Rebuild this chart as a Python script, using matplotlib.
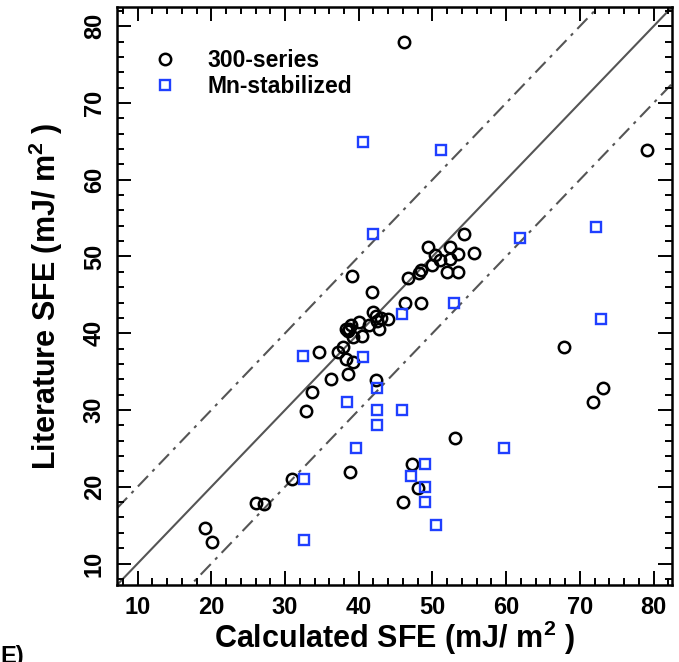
import matplotlib
matplotlib.use("Agg")
import matplotlib.pyplot as plt
from matplotlib.ticker import MultipleLocator

plt.rcParams['font.family'] = ['Liberation Sans', 'DejaVu Sans']
plt.rcParams['font.weight'] = 'bold'
plt.rcParams['mathtext.default'] = 'regular'

# 300-series (calculated, literature)
s300_x = [46.15, 79.1, 54.3, 49.4, 52.4, 53.5, 55.6, 50.4, 51.0, 52.4, 50.0, 48.4, 48.2, 46.7,
          52.0, 53.5, 39.15, 41.8, 46.3, 48.5, 42.0, 42.3, 42.5, 43.0, 44.0, 42.8, 41.4, 40.05,
          38.9, 38.5, 38.3, 38.7, 39.2, 40.4, 37.9, 37.2, 34.6, 38.3, 39.2, 36.3, 38.6, 42.3,
          33.6, 32.8, 31.0, 26.1, 27.2, 19.1, 20.1, 38.8, 53.05, 47.2, 48.1, 46.05, 67.9, 71.8, 73.1]
s300_y = [78.0, 63.9, 52.9, 51.2, 51.2, 50.3, 50.4, 50.2, 49.5, 49.7, 48.9, 48.3, 47.9, 47.25,
          48.0, 48.0, 47.5, 45.4, 44.0, 44.0, 42.75, 42.2, 41.6, 42.0, 41.9, 40.5, 41.1, 41.4,
          41.1, 40.3, 40.5, 40.6, 39.5, 39.7, 38.2, 37.6, 37.5, 36.65, 36.2, 34.1, 34.7, 33.9,
          32.3, 29.9, 21.0, 17.9, 17.7, 14.6, 12.8, 21.9, 26.3, 23.0, 19.9, 18.0, 38.2, 31.0, 32.9]

# Mn-stabilized
mn_x = [40.6, 51.1, 41.9, 72.2, 61.9, 52.9, 45.9, 72.9, 32.5, 40.6, 42.5, 38.4, 42.5, 45.9,
        42.5, 39.6, 59.7, 32.6, 32.6, 48.95, 47.1, 48.95, 48.95, 50.5]
mn_y = [64.9, 63.9, 52.9, 53.9, 52.4, 44.0, 42.45, 41.9, 37.0, 36.9, 32.9, 31.0, 30.0, 30.0,
        28.0, 25.0, 25.0, 21.0, 13.0, 23.0, 21.4, 20.0, 18.0, 15.0]

lims = [7.2, 82.5]
band = 10
xticks = [10, 20, 30, 40, 50, 60, 70, 80]

fig = plt.figure(figsize=(6.79, 6.62), dpi=100)
ax = fig.add_axes([0.1723, 0.1163, 0.8174, 0.8731])

line_col = '#555555'
ax.plot(lims, lims, color=line_col, lw=1.5, zorder=1)
ax.plot(lims, [lims[0] + band, lims[1] + band], color=line_col, lw=1.5,
        dashes=(7, 3, 1.5, 3), zorder=1)
ax.plot(lims, [lims[0] - band, lims[1] - band], color=line_col, lw=1.5,
        dashes=(7, 3, 1.5, 3), zorder=1)

ax.plot(s300_x, s300_y, 'o', ms=8.2, mfc='none', mec='black', mew=1.8,
        label='300-series', zorder=3)
ax.plot(mn_x, mn_y, 's', ms=6.5, mfc='none', mec='#1f3fff', mew=1.7,
        label='Mn-stabilized', zorder=3)

ax.set_xlim(lims)
ax.set_ylim(lims)
ax.set_xticks(xticks)
ax.set_yticks(xticks)
ax.xaxis.set_minor_locator(MultipleLocator(2))
ax.yaxis.set_minor_locator(MultipleLocator(2))
ax.tick_params(which='both', direction='in', top=True, right=True, width=1.4)
ax.tick_params(which='major', length=10, labelsize=17, pad=8)
ax.tick_params(which='minor', length=5)
for lab in ax.get_yticklabels():
    lab.set_rotation(90)
    lab.set_va('center')
for lab in ax.get_xticklabels() + ax.get_yticklabels():
    lab.set_fontweight('bold')
for sp in ax.spines.values():
    sp.set_linewidth(1.8)

ax.set_xlabel('Calculated SFE (mJ/ m$^{2}$ )', fontsize=22, fontweight='bold', labelpad=0)
ax.set_ylabel('Literature SFE (mJ/ m$^{2}$ )', fontsize=22, fontweight='bold', labelpad=13)

leg = ax.legend(loc='upper left', frameon=False, fontsize=16.5, handlelength=2.0,
                handletextpad=0.85, borderaxespad=0, borderpad=0, labelspacing=0.12,
                bbox_to_anchor=(0.045, 0.927))
for t in leg.get_texts():
    t.set_fontweight('bold')

fig.text(0.0, 0.025, 'E)', fontsize=17, fontweight='bold', va='top', ha='left')

fig.savefig('out.png', dpi=100)
